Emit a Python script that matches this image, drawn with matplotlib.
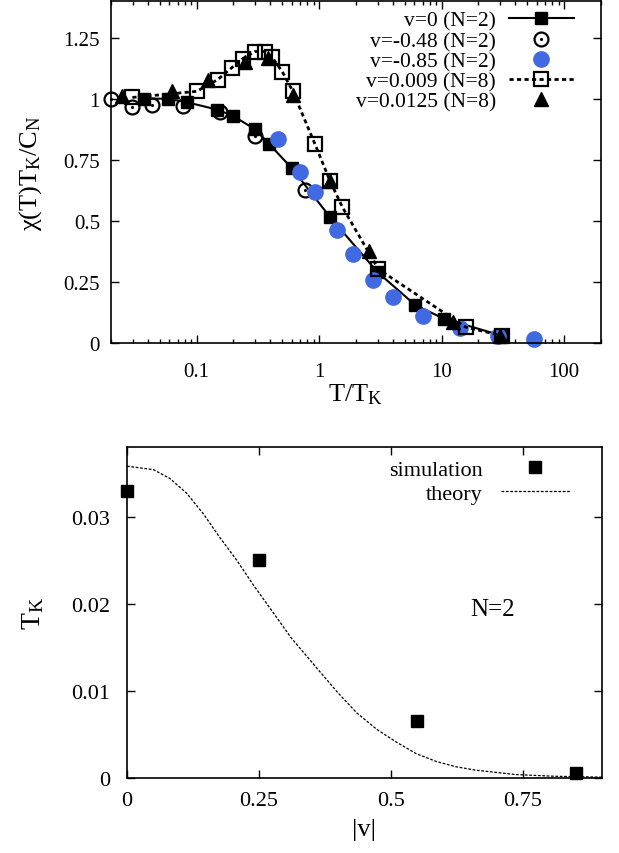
import matplotlib
matplotlib.use('Agg')
from matplotlib import pyplot as plt
from matplotlib.legend_handler import HandlerTuple

plt.rcParams['font.family'] = ['Liberation Serif', 'DejaVu Serif']
plt.rcParams['mathtext.fontset'] = 'custom'
plt.rcParams['mathtext.rm'] = 'Liberation Serif'
plt.rcParams['mathtext.it'] = 'Liberation Serif:italic'

# top panel: chi(T) T_K / C_N against T/T_K
t_v0 = [0.0375, 0.058, 0.084, 0.148, 0.197, 0.30, 0.39, 0.60, 1.23, 3.0, 6.1, 10.4, 31]
chi_v0 = [1.0, 1.0, 0.985, 0.955, 0.93, 0.875, 0.815, 0.715, 0.515, 0.29, 0.155, 0.10, 0.03]

t_v048 = [0.0201, 0.0299, 0.0436, 0.0768, 0.154, 0.299, 0.767]
chi_v048 = [1.0, 0.964, 0.976, 0.972, 0.944, 0.846, 0.625]

t_v085 = [0.461, 0.698, 0.927, 1.41, 1.90, 2.77, 4.04, 7.1, 14.1, 28.8, 56.8]
chi_v085 = [0.833, 0.699, 0.617, 0.462, 0.364, 0.257, 0.188, 0.11, 0.061, 0.03, 0.016]

t_v009 = [0.0299, 0.1, 0.1486, 0.194, 0.238, 0.299, 0.36, 0.41, 0.50, 0.61, 0.927, 1.23, 1.55, 3.05, 15.7, 31]
chi_v009 = [1.005, 1.03, 1.078, 1.127, 1.164, 1.193, 1.193, 1.172, 1.111, 1.03, 0.813, 0.662, 0.556, 0.302, 0.065, 0.03]

t_v0125 = [0.0247, 0.0624, 0.123, 0.247, 0.382, 0.612, 1.23, 2.57, 12.5, 30]
chi_v0125 = [1.01, 1.03, 1.078, 1.152, 1.168, 1.017, 0.662, 0.376, 0.086, 0.03]

# bottom panel: T_K against |v|
v_sim = [0, 0.25, 0.55, 0.85]
tk_sim = [0.033, 0.025, 0.0065, 0.0006]

v_th = [0, 0.05, 0.081, 0.113, 0.145, 0.176, 0.208, 0.239, 0.271, 0.311, 0.36, 0.398,
        0.435, 0.473, 0.511, 0.548, 0.586, 0.623, 0.661, 0.736, 0.811, 0.9]
tk_th = [0.0358, 0.0354, 0.0344, 0.0327, 0.0303, 0.0276, 0.0250, 0.0222, 0.0195, 0.0161, 0.0126, 0.0099,
         0.0075, 0.0056, 0.0041, 0.0028, 0.0019, 0.0013, 0.0009, 0.0004, 0.0002, 0.0001]

fig = plt.figure(figsize=(6.19, 8.54), dpi=100)

# ---- top ----
ax = fig.add_axes([0.1793, 0.5972, 0.7916, 0.4005])
l1, = ax.plot(t_v0, chi_v0, color='black', ls='-', lw=1.5, marker='s', ms=9, mfc='black', mec='black',
              clip_on=False)
l2, = ax.plot(t_v048, chi_v048, ls='none', marker='o', ms=10, mfc='none', mec='black', mew=1.6,
              clip_on=False)
l2d, = ax.plot(t_v048, chi_v048, ls='none', marker='.', ms=2.5, color='black', clip_on=False)
l3, = ax.plot(t_v085, chi_v085, ls='none', marker='o', ms=11, mfc='#4169e1', mec='#4169e1',
              clip_on=False)
l4, = ax.plot(t_v009, chi_v009, color='black', lw=2, ls=(0, (1.5, 1.2)), marker='s', ms=10,
              mfc='none', mec='black', mew=1.6, clip_on=False)
l5, = ax.plot(t_v0125, chi_v0125, ls='none', marker='^', ms=9.5, color='black', clip_on=False)

ax.set_xscale('log')
ax.set_xlim(0.02, 200)
ax.set_ylim(0, 1.4)
ax.set_yticks([0, 0.25, 0.5, 0.75, 1, 1.25])
ax.set_yticklabels(['0', '0.25', '0.5', '0.75', '1', '1.25'])
ax.set_xticks([0.1, 1, 10, 100])
ax.set_xticklabels(['0.1', '1', '10', '100'])
ax.tick_params(which='both', direction='in', top=True, right=True, labelsize=15)
ax.tick_params(which='major', length=6, width=1)
ax.tick_params(axis='y', pad=8)
ax.tick_params(axis='x', pad=14)
ax.tick_params(which='minor', length=3, width=1)
for s in ax.spines.values():
    s.set_linewidth(1.2)
ax.set_xlabel('T/T$_{\\rm K}$', fontsize=19, labelpad=0)
ax.set_ylabel('χ(T)T$_{\\rm K}$/C$_{\\rm N}$', fontsize=19, labelpad=14)

ax.legend([l1, (l2, l2d), l3, l4, l5],
          ['v=0 (N=2)', 'v=-0.48 (N=2)', 'v=-0.85 (N=2)', 'v=0.009 (N=8)', 'v=0.0125 (N=8)'],
          handler_map={tuple: HandlerTuple(ndivide=1, pad=0)},
          loc='upper right', bbox_to_anchor=(0.975, 1.015), frameon=False, markerfirst=False,
          fontsize=15.5, handlelength=3.0, handletextpad=0.6, labelspacing=0.0, borderaxespad=0.3)

# ---- bottom ----
bx = fig.add_axes([0.2052, 0.0878, 0.7672, 0.3876])
s1, = bx.plot(v_sim, tk_sim, ls='none', marker='s', ms=8.5, color='black', clip_on=False)
s2, = bx.plot(v_th, tk_th, color='black', lw=0.9, ls=(0, (2.2, 1.3)))
bx.set_xlim(0, 0.9)
bx.set_ylim(0, 0.038)
bx.set_xticks([0, 0.25, 0.5, 0.75])
bx.set_xticklabels(['0', '0.25', '0.5', '0.75'])
bx.set_yticks([0, 0.01, 0.02, 0.03])
bx.set_yticklabels(['0', '0.01', '0.02', '0.03'])
bx.tick_params(which='both', direction='in', top=True, right=True, labelsize=16)
bx.tick_params(which='major', length=6, width=1)
bx.tick_params(axis='y', pad=12)
bx.tick_params(axis='x', pad=9)
for s in bx.spines.values():
    s.set_linewidth(1.2)
bx.set_xlabel('|v|', fontsize=19, labelpad=6)
bx.set_ylabel('T$_{\\rm K}$', fontsize=20, labelpad=18)
bx.text(0.77, 0.51, 'N=2', transform=bx.transAxes, fontsize=18, ha='center', va='center')
bx.legend([s1, s2], ['simulation', 'theory'],
          loc='upper right', bbox_to_anchor=(0.965, 1.01), frameon=False, markerfirst=False,
          fontsize=16, handlelength=3.1, handletextpad=0.8, labelspacing=0.15, borderaxespad=0.3)

plt.savefig('out.png', dpi=100)
